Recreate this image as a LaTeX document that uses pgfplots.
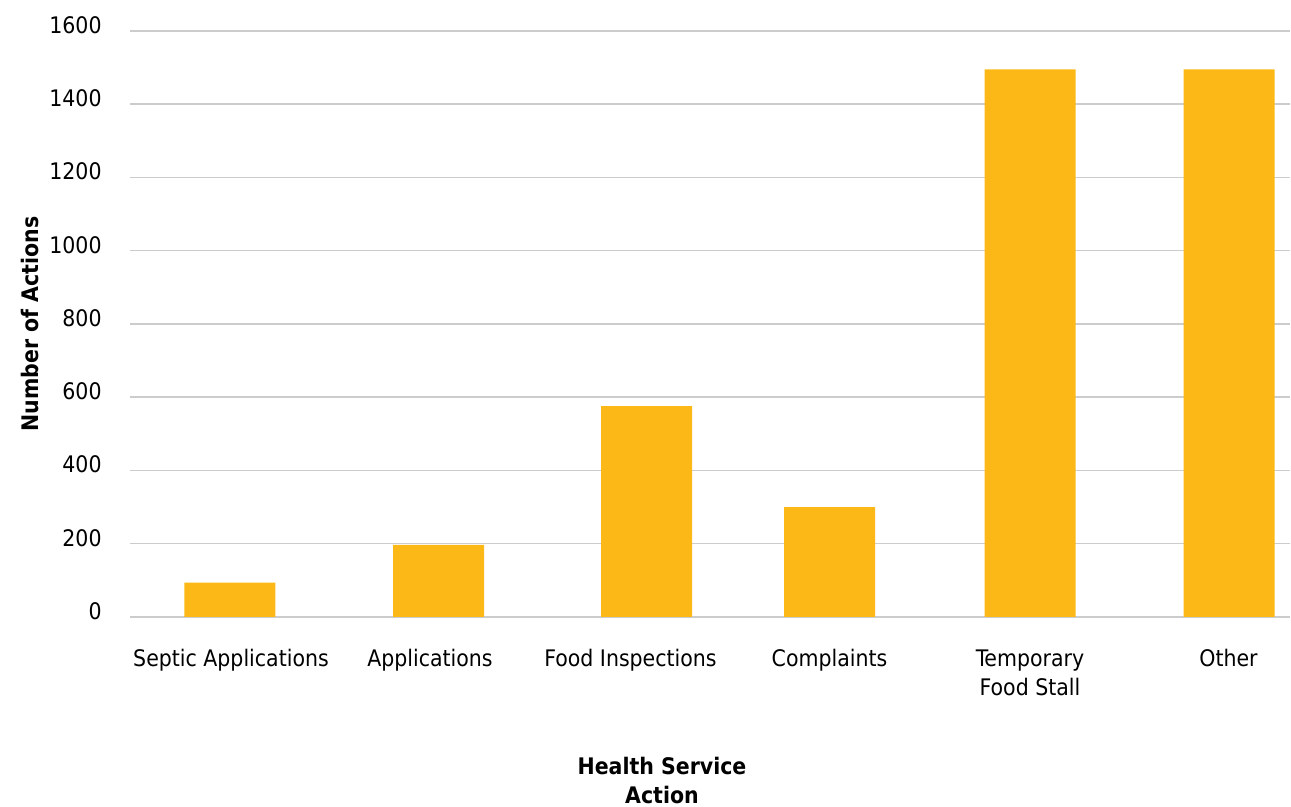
\documentclass[border=0pt]{standalone}
\usepackage{pgfplots}
\pgfplotsset{compat=1.18}
\usepackage{fontspec}
\setmainfont{DejaVu Sans Condensed}
\usetikzlibrary{calc}
\definecolor{bargold}{HTML}{FBB817}
\definecolor{gridgray}{HTML}{CCCCCC}
\begin{document}
\begin{tikzpicture}
\begin{axis}[name=ax,
  scale only axis, width=580pt, height=293pt,
  xmin=1.30, xmax=12.90, ymin=0, ymax=1600,
  axis line style={draw=none},
  tick style={draw=none}, major tick length=0pt,
  ytick={0,200,...,1600},
  ymajorgrids, grid style={gridgray, line width=0.75pt},
  xtick={2.31,4.30,6.305,8.295,10.30,12.285},
  xticklabels={Septic Applications, Applications, Food Inspections, Complaints, {Temporary\\Food Stall}, Other},
  /pgf/number format/assume math mode=true,
  /pgf/number format/1000 sep={},
  tick label style={font=\fontsize{11.4}{14.5}\selectfont, inner sep=0pt},
  xticklabel style={align=center, anchor=north, yshift=-16pt},
  yticklabel style={anchor=east, xshift=-14pt, yshift=3pt},
  ylabel={Number of Actions},
  ylabel style={font=\fontsize{11.4}{14.5}\selectfont\bfseries, at={(axis description cs:-0.0862,0.5)}, anchor=center, inner sep=0pt},
  xlabel={Health Service\\Action},
  xlabel style={font=\fontsize{11.4}{14.5}\selectfont\bfseries, align=center, at={(axis description cs:0.4586,0)}, anchor=north, inner sep=0pt, yshift=-70pt},
]
\addplot[ybar, bar width=0.91, fill=bargold, draw=none] coordinates {
  (2.30,94) (4.385,197) (6.465,576) (8.295,300) (10.30,1495) (12.29,1495)};
\end{axis}
\pgfresetboundingbox
\path ($(ax.south west)+(-65pt,-95pt)$) rectangle ($(ax.north east)+(0.5pt,15.5pt)$);
\end{tikzpicture}
\end{document}
